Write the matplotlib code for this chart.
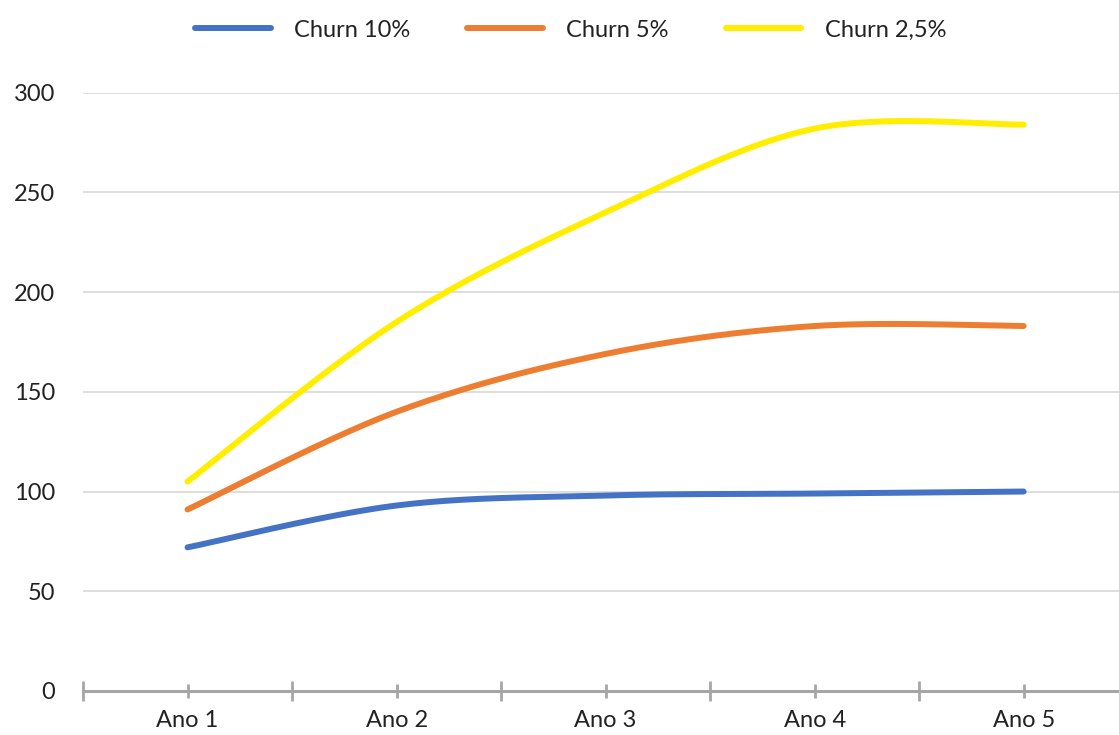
import numpy as np
import matplotlib.pyplot as plt

# dados das curvas de receita por taxa de churn
anos = ["Ano 1", "Ano 2", "Ano 3", "Ano 4", "Ano 5"]
churn_10 = [72, 93, 98, 99, 100]
churn_5 = [91, 140, 169, 183, 183]
churn_2_5 = [105, 185, 240, 282, 284]
series_labels = ["Churn 10%", "Churn 5%", "Churn 2,5%"]
series_colors = ["#4472C4", "#ED7D31", "#FFEE00"]

plt.rcParams['font.family'] = ['Lato', 'DejaVu Sans']


def suaviza(y, n=40):
    # linha suavizada estilo Excel: Bezier cubica com pontos de controle tipo Catmull-Rom
    x = np.arange(len(y), dtype=float)
    y = np.asarray(y, dtype=float)
    px = np.concatenate([[x[0]], x, [x[-1]]])
    py = np.concatenate([[y[0]], y, [y[-1]]])
    t = np.linspace(0, 1, n)
    xs, ys = [], []
    for i in range(1, len(px) - 2):
        p0 = np.array([px[i], py[i]])
        p3 = np.array([px[i + 1], py[i + 1]])
        c1 = p0 + (np.array([px[i + 1], py[i + 1]]) - np.array([px[i - 1], py[i - 1]])) / 6
        c2 = p3 - (np.array([px[i + 2], py[i + 2]]) - np.array([px[i], py[i]])) / 6
        b = ((1 - t) ** 3)[:, None] * p0 + (3 * (1 - t) ** 2 * t)[:, None] * c1 \
            + (3 * (1 - t) * t ** 2)[:, None] * c2 + (t ** 3)[:, None] * p3
        xs.append(b[:, 0])
        ys.append(b[:, 1])
    return np.concatenate(xs), np.concatenate(ys)


fig = plt.figure(figsize=(11.19, 7.35), dpi=100)
ax = fig.add_axes([0.0742, 0.0599, 0.934, 0.814])

for valores, label, cor in zip([churn_10, churn_5, churn_2_5], series_labels, series_colors):
    xs, ys = suaviza(valores)
    ax.plot(xs, ys, color=cor, lw=4.3, solid_capstyle='round', label=label, zorder=3)

ax.set_xlim(-0.5, len(anos) - 0.5)
ax.set_ylim(0, 300)
ax.set_yticks(range(0, 301, 50))
ax.set_yticklabels([str(v) for v in range(0, 301, 50)], fontsize=17, color="#222222")
ax.tick_params(axis='y', length=0, pad=20)
ax.grid(axis='y', color="#dedede", lw=1.4, zorder=0)

ax.set_xticks(range(len(anos)))
ax.set_xticklabels(anos, fontsize=17, color="#222222")
ax.set_xticks(np.arange(-0.5, len(anos)), minor=True)
ax.tick_params(axis='x', which='major', direction='inout', length=9.5, width=2,
               color="#a6a6a6", pad=9)
ax.tick_params(axis='x', which='minor', direction='inout', length=14, width=2,
               color="#a6a6a6")

for lado in ['top', 'right', 'left']:
    ax.spines[lado].set_visible(False)
ax.spines['bottom'].set_color("#a6a6a6")
ax.spines['bottom'].set_linewidth(2.2)
ax.spines['bottom'].set_zorder(4)

fig.legend(loc='center', bbox_to_anchor=(0.51, 0.959), ncol=3, frameon=False,
           fontsize=17, handlelength=3.2, handletextpad=1.0, columnspacing=2.4,
           labelcolor="#222222")

fig.savefig("out.png", dpi=100)
